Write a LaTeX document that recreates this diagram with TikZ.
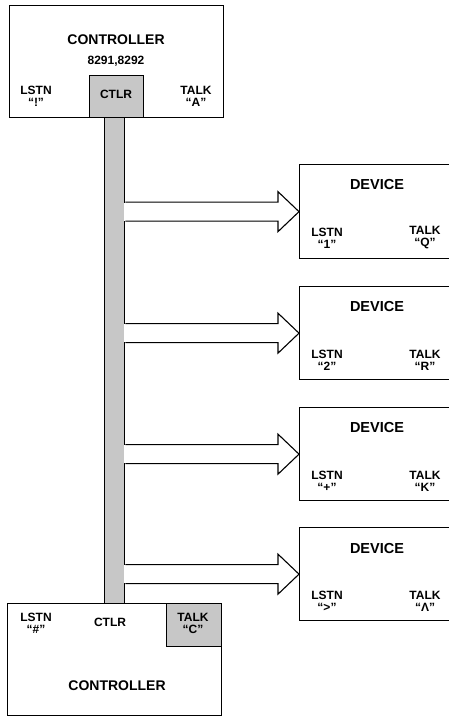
\documentclass[tikz,border=0pt]{standalone}
\usepackage{fontspec}
\setmainfont{Liberation Sans}
\usetikzlibrary{calc}
\tikzset{
  box/.style={draw, line width=1.3pt, anchor=north west, inner sep=0pt},
  shade/.style={fill=black!22},
  big/.style={font=\bfseries\fontsize{14}{16}\selectfont, inner sep=0pt},
  mid/.style={font=\bfseries\fontsize{14.5}{16}\selectfont, inner sep=0pt},
  lab/.style={font=\bfseries\fontsize{12}{12}\selectfont, inner sep=0pt, align=center},
  small/.style={font=\bfseries\fontsize{12}{13}\selectfont, inner sep=0pt},
  arr/.style={draw, fill=white, line width=1.1pt, line join=miter},
}
\begin{document}
\begin{tikzpicture}[x=1pt, y=-1pt]
\useasboundingbox (0,0) rectangle (448,716);
% top controller
\node[box, minimum width=214pt, minimum height=112pt] (tc) at (9,5) {};
\node[box, shade, minimum width=54pt, minimum height=42pt] (tctlr) at (89,75) {};
% bus
\node[box, shade, minimum width=20pt, minimum height=486pt] (bus) at (104,117) {};
% bottom controller
\node[box, minimum width=214pt, minimum height=112pt] (bc) at (7,603) {};
\node[box, shade, minimum width=55pt, minimum height=43pt] (btalk) at (166,603) {};
% devices
\node[box, minimum width=160pt, minimum height=94pt] (d1) at (299,164) {};
\node[box, minimum width=160pt, minimum height=93pt] (d2) at (299,286) {};
\node[box, minimum width=160pt, minimum height=93pt] (d3) at (299,407) {};
\node[box, minimum width=160pt, minimum height=93pt] (d4) at (299,527) {};
% arrows
\foreach \d in {d1,d2,d3,d4}{
  \coordinate (s) at (bus.east |- \d.west);
  \fill[white] ([xshift=-1.2pt,yshift=9pt]s) rectangle ([xshift=0.5pt,yshift=-9pt]s);
  \draw[arr] ([yshift=9.5pt]s) -- ([xshift=-21pt,yshift=9.5pt]\d.west)
    -- ([xshift=-21pt,yshift=20pt]\d.west) -- (\d.west)
    -- ([xshift=-21pt,yshift=-20pt]\d.west) -- ([xshift=-21pt,yshift=-9.5pt]\d.west)
    -- ([yshift=-9.5pt]s);
}
% top controller texts
\node[big] (t1) at (116,40) {CONTROLLER};
\node[small] (t2) at (116,61) {8291,8292};
\node[lab] (t3) at (36,96) {LSTN\\“!”};
\node[lab] (t4) at (116,94) {CTLR};
\node[lab] (t5) at (196,96) {TALK\\“A”};
% device texts
\foreach \d/\l/\t in {d1/1/Q, d2/2/R, d3/+/K, d4/>/Λ}{
  \node[mid] at ([xshift=78pt,yshift=-21pt]\d.north west) {DEVICE};
  \node[lab] at ([xshift=28pt,yshift=-74pt]\d.north west) {LSTN\\“\l”};
  \node[lab] at ([xshift=126pt,yshift=-74pt]\d.north west) {TALK\\“\t”};
}
% bottom controller texts
\node[lab] (b1) at (36,623) {LSTN\\“\#”};
\node[lab] (b2) at (110,622) {CTLR};
\node[lab] (b3) at (193,623) {TALK\\“C”};
\node[big] (b4) at (117,686) {CONTROLLER};
\end{tikzpicture}
\end{document}
